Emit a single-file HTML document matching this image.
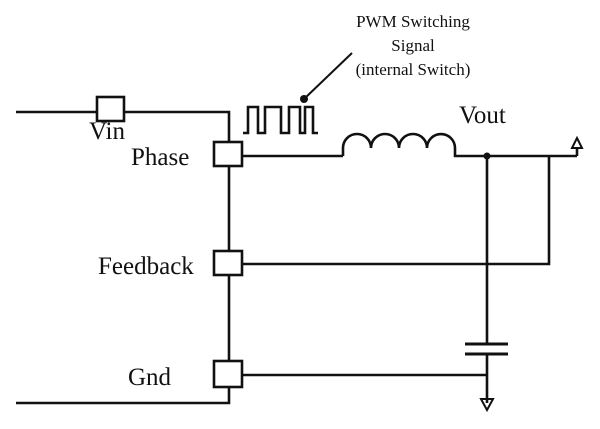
<!DOCTYPE html>
<html><head><style>body{margin:0;background:#fff}</style></head><body>
<svg width="600" height="424" viewBox="0 0 600 424" xmlns="http://www.w3.org/2000/svg">
<g fill="none" stroke="#111" stroke-width="2.6">
<path d="M16 112H229V403H16"/>
<rect x="97" y="97" width="27" height="24" fill="#fff"/>
<path d="M242 156H343"/>
<path d="M343 156V148A14 14 0 0 1 371 148A14 14 0 0 1 399 148A14 14 0 0 1 427 148A14 14 0 0 1 455 148V156H577"/>
<path d="M487 156V344M487 354V403"/>
<path d="M549 156V264H242"/>
<path d="M242 375H487"/>
<path d="M465 344H508M465 354H508" stroke-width="3"/>
<path d="M577 156V148"/>
<path d="M572 148L577 138L582 148Z" stroke-width="2"/>
<path d="M481 399L487 410L493 399Z" stroke-width="2"/>
<rect x="214" y="142" width="28" height="24" fill="#fff"/>
<rect x="214" y="251" width="28" height="24" fill="#fff"/>
<rect x="214" y="361" width="28" height="26" fill="#fff"/>
<path d="M243 133H248V107H258V133H265V107H281V133H289V107H300V133H305V107H313V133H318"/>
<path d="M304 99L352 53" stroke-width="2"/>
</g>
<circle cx="304" cy="99" r="4" fill="#111"/>
<circle cx="487" cy="156" r="3.5" fill="#111"/>
<g font-family="Liberation Serif, serif" fill="#111">
<text x="413" y="27" font-size="17" text-anchor="middle">PWM Switching</text>
<text x="413" y="51" font-size="17" text-anchor="middle">Signal</text>
<text x="413" y="75" font-size="17" text-anchor="middle">(internal Switch)</text>
<text x="89" y="139" font-size="25">Vin</text>
<text x="131" y="165" font-size="25">Phase</text>
<text x="98" y="274" font-size="25">Feedback</text>
<text x="128" y="385" font-size="25">Gnd</text>
<text x="459" y="123" font-size="25">Vout</text>
</g>
</svg>
</body></html>
